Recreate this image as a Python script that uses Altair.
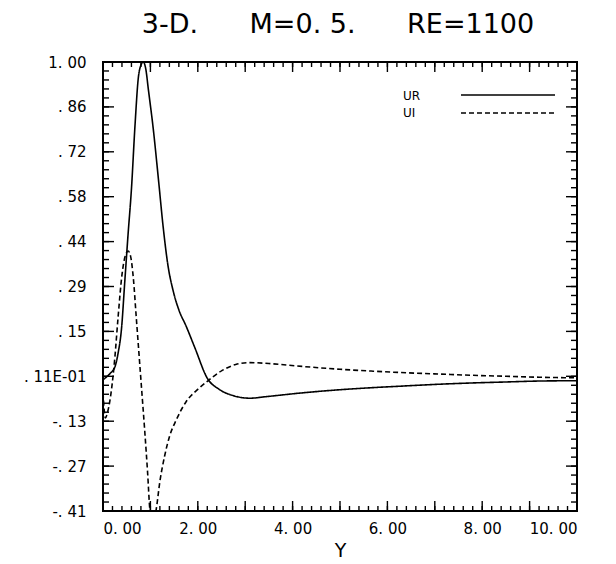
import altair as alt
import pandas as pd
import numpy as np

# ---------------- data ----------------
ur_x = [0.0, 0.15, 0.25, 0.32, 0.39, 0.46, 0.53, 0.60, 0.675, 0.745, 0.80, 0.85,
        0.90, 0.96, 1.06, 1.17, 1.27, 1.37, 1.48, 1.60, 1.75, 1.94, 2.20, 2.45,
        2.75, 3.10, 3.45, 4.15, 4.85, 5.55, 6.30, 7.10, 7.80, 8.50, 9.20, 10.0]
ur_y = [0.0, 0.02, 0.04, 0.085, 0.16, 0.31, 0.46, 0.60, 0.80, 0.95, 0.99, 1.0,
        0.98, 0.91, 0.79, 0.63, 0.48, 0.36, 0.28, 0.22, 0.17, 0.10, 0.005, -0.03,
        -0.05, -0.058, -0.053, -0.042, -0.033, -0.026, -0.02, -0.014, -0.01, -0.007,
        -0.004, -0.003]

ui_x = [0.0, 0.05, 0.10, 0.18, 0.25, 0.32, 0.40, 0.47, 0.53, 0.58, 0.64, 0.70,
        0.76, 0.82, 0.88, 0.94, 0.99, 1.05, 1.12, 1.20, 1.30, 1.40, 1.55, 1.75,
        2.0, 2.2, 2.5, 2.8, 3.1, 3.5, 4.2, 5.0, 5.7, 6.4, 7.1, 7.8, 8.5, 9.2, 10.0]
ui_y = [-0.04, -0.12, -0.10, -0.03, 0.07, 0.20, 0.33, 0.39, 0.405, 0.39, 0.32, 0.20,
        0.08, -0.04, -0.16, -0.29, -0.41, -0.45, -0.41, -0.32, -0.24, -0.18, -0.125,
        -0.07, -0.03, -0.005, 0.028, 0.048, 0.054, 0.051, 0.042, 0.033, 0.027, 0.022,
        0.018, 0.014, 0.011, 0.008, 0.006]

series_names = ["UR", "UI"]
NB = "\u00a0"
title_parts = ["3-D.", "M=0." + NB + "5.", "RE=1100"]
title_text = (NB * 6).join(title_parts)
x_title = "Y"

x_domain = [0.0, 10.0]
y_min, y_max = -0.413, 1.0
y_step = 0.1413
x_label_values = [0, 2, 4, 6, 8, 10]
y_labels = ["-. 41", "-. 27", "-. 13", ". 11E-01", ". 15", ". 29", ". 44", ". 58",
            ". 72", ". 86", "1. 00"]

# ---------------- layout constants ----------------
W, H = 474, 449
FONT = "DejaVu Sans"

df = pd.concat([
    pd.DataFrame({"x": ur_x, "y": ur_y, "series": "UR"}),
    pd.DataFrame({"x": ui_x, "y": ui_y, "series": "UI"}),
], ignore_index=True)

y_tick_values = [round(y_min + i * y_step, 4) for i in range(len(y_labels))]
y_minor_values = [round(y_min + j * y_step / 5, 5) for j in range(5 * (len(y_labels) - 1) + 1)]
x_minor_values = [round(v, 2) for v in np.arange(0, 10.0001, 0.2)]
x_int_values = list(range(0, 11))

xscale = alt.Scale(domain=x_domain, nice=False, zero=False)
yscale = alt.Scale(domain=[y_min, y_max], nice=False, zero=False)

label_array = "[" + ",".join("'%s'" % s for s in y_labels) + "]"
y_label_expr = label_array + "[round((datum.value - (%s)) / %s)]" % (y_min, y_step)

x_axis = alt.Axis(values=x_label_values,
                  labelExpr="replace(format(datum.value, '.2f'), '.', '. ')",
                  title=x_title, labelPadding=10, titlePadding=5,
                  titleFontSize=19, titleFont=FONT, titleFontWeight="normal",
                  titleColor="black",
                  labelFont=FONT, labelFontSize=15, labelColor="black",
                  domain=False, ticks=False, grid=False, orient="bottom")
y_axis = alt.Axis(values=y_tick_values, labelExpr=y_label_expr, title=None,
                  labelPadding=17, labelFont=FONT, labelFontSize=15, labelColor="black",
                  domain=False, ticks=False, grid=False, orient="left")

X = lambda: alt.X("x:Q", scale=xscale, axis=x_axis)
Y = lambda: alt.Y("y:Q", scale=yscale, axis=y_axis)

lines = alt.Chart(df).mark_line(
    clip=True, color="black", strokeWidth=1.6, interpolate="monotone"
).encode(
    x=X(), y=Y(),
    strokeDash=alt.StrokeDash("series:N",
                              scale=alt.Scale(domain=series_names, range=[[1, 0], [5, 3]]),
                              legend=None),
)

tick_style = dict(color="black", strokeWidth=1.4)
xminor_df = pd.DataFrame({"x": x_minor_values})
xint_df = pd.DataFrame({"x": x_int_values})
yminor_df = pd.DataFrame({"y": y_minor_values})
ymajor_df = pd.DataFrame({"y": y_tick_values})

def xticks(data, length):
    bottom = alt.Chart(data).mark_rule(**tick_style).encode(
        x=X(), y=alt.value(H), y2=alt.value(H - length))
    top = alt.Chart(data).mark_rule(**tick_style).encode(
        x=X(), y=alt.value(0), y2=alt.value(length))
    return [bottom, top]

def yticks(data, length):
    left = alt.Chart(data).mark_rule(**tick_style).encode(
        y=Y(), x=alt.value(0), x2=alt.value(length))
    right = alt.Chart(data).mark_rule(**tick_style).encode(
        y=Y(), x=alt.value(W), x2=alt.value(W - length))
    return [left, right]

tick_layers = xticks(xminor_df, 5) + xticks(xint_df, 10) + yticks(yminor_df, 6) + yticks(ymajor_df, 11)

title_layer = alt.Chart(pd.DataFrame({"t": [title_text]})).mark_text(
    font=FONT, fontSize=27, align="center", baseline="alphabetic", color="black"
).encode(text="t:N", x=alt.value(235), y=alt.value(-29))

leg_ur_text = alt.Chart(pd.DataFrame({"s": [series_names[0]]})).mark_text(
    font=FONT, fontSize=12, align="left", baseline="middle", color="black"
).encode(text="s:N", x=alt.value(300), y=alt.value(34))
leg_ui_text = alt.Chart(pd.DataFrame({"s": [series_names[1]]})).mark_text(
    font=FONT, fontSize=12, align="left", baseline="middle", color="black"
).encode(text="s:N", x=alt.value(300), y=alt.value(51))
leg_ur_line = alt.Chart(pd.DataFrame({"s": [series_names[0]]})).mark_rule(
    color="black", strokeWidth=1.4
).encode(x=alt.value(358), x2=alt.value(452), y=alt.value(33))
leg_ui_line = alt.Chart(pd.DataFrame({"s": [series_names[1]]})).mark_rule(
    color="black", strokeWidth=1.4, strokeDash=[5, 3]
).encode(x=alt.value(358), x2=alt.value(452), y=alt.value(51))

chart = alt.layer(
    lines, *tick_layers, title_layer, leg_ur_text, leg_ui_text, leg_ur_line, leg_ui_line
).properties(
    width=W, height=H,
    padding={"left": 95, "top": 54, "right": 30, "bottom": 52},
    autosize=alt.AutoSizeParams(type="none"),
    background="white",
).configure_view(
    stroke="black", strokeWidth=2
)

chart.save("out.html", embed_options={"renderer": "svg", "actions": False})
